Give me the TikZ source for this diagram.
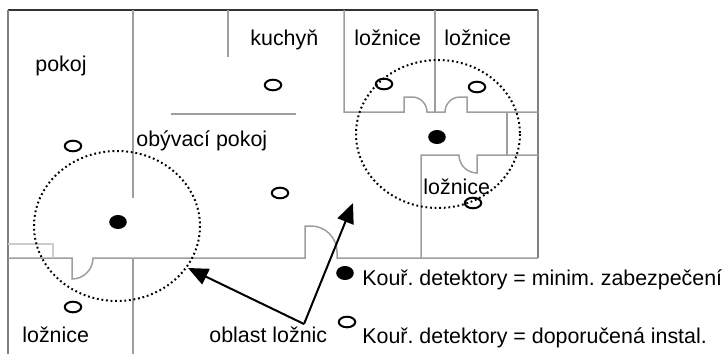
\documentclass[tikz,border=0pt]{standalone}
\usepackage{fontspec}
\setmainfont{Liberation Sans}
\usetikzlibrary{arrows.meta,shapes.geometric}
\frenchspacing

\begin{document}
\begin{tikzpicture}[x=0.5pt,y=-0.5pt,
	wall/.style={draw=black!38,line width=0.75pt},
	zone/.style={draw=black,line width=1pt,dash pattern=on 0.9pt off 1.4pt},
	opendet/.style={ellipse,draw,line width=1pt,minimum width=8.2pt,minimum height=5.3pt,inner sep=0pt},
	fulldet/.style={ellipse,fill,minimum width=8.8pt,minimum height=7pt,inner sep=0pt},
	lbl/.style={anchor=base west,inner sep=0pt,font=\fontsize{10.7}{12}\selectfont},
	pointer/.style={-{Triangle[length=10pt,width=8.5pt]},line width=1pt}]
			\useasboundingbox (0,0) rectangle (727,354);
			% Obvodové stěny
			\draw[line width=0.9pt,draw=black!80] (8,10) -- (538,10);
			\draw[wall,draw=black!50] (8,10) -- (8,354);
			\draw[wall,draw=black!50] (538,10) -- (538,258);
			% Vnitřní stěny a dveře
			\draw[wall] (133,10) -- (133,198);
			\draw[wall] (133,259) -- (133,354);
			\draw[wall] (228,10) -- (228,57);
			\draw[wall] (171,114) -- (296,114);
			\draw[wall] (344,10) -- (344,112) -- (404,112) -- (404,97) -- (412,97)
				arc[start angle=-90,end angle=0,radius=15] -- (445,112)
				arc[start angle=180,end angle=270,radius=15] -- (467,97) -- (467,112) -- (538,112);
			\draw[wall] (435,10) -- (435,112);
			\draw[wall] (507,112) -- (507,155);
			\draw[wall] (421,258) -- (421,155) -- (459,155)
				arc[start angle=180,end angle=90,radius=18] -- (477,155) -- (538,155);
			\draw[wall] (8,258) -- (72,258) -- (72,279)
				arc[start angle=90,end angle=0,radius=21] -- (305,258) -- (305,226) -- (311,226)
				arc[start angle=-90,end angle=0,radius=26] -- (337,258) -- (538,258);
			\draw[wall,draw=black!20] (8,244) -- (53,244) -- (53,258);
			% Oblasti ložnic
			\draw[zone] (117,226) ellipse[x radius=83,y radius=75];
			\draw[zone] (438,134) ellipse[x radius=82,y radius=74];
			% Hlásiče
			\foreach \n/\x/\y in {a/118/222,b/437/137,c/345/273}
			\node[fulldet] (f\n) at (\x,\y) {};
			\foreach \n/\x/\y in {a/273/85,b/73/146,c/280/193,d/73/307,e/384/84,f/477/87,g/473/203,h/347/322}
			\node[opendet] (o\n) at (\x,\y) {};
			% Popisky
			\node[lbl] (pokoj) at (35,71.5) {pokoj};
			\node[lbl] (kuchyn) at (250,45) {kuchyň};
			\node[lbl] (lozA) at (354,45) {ložnice};
			\node[lbl] (lozB) at (444,45) {ložnice};
			\node[lbl] (obyv) at (136,146.5) {obývací pokoj};
			\node[lbl] (lozC) at (423,194) {ložnice};
			\node[lbl] (lozD) at (22,342.5) {ložnice};
			\node[lbl] (obl) at (209,342.5) {oblast ložnic};
			\node[lbl] (legA) at (362,285) {Kouř. detektory = minim. zabezpečení};
			\node[lbl] (legB) at (362,343) {Kouř. detektory = doporučená instal.};
			% Šipky
			\coordinate (fork) at (304,324);
			\coordinate (tipL) at (188,268);
			\coordinate (tipR) at (353,203);
			\draw[pointer] (fork) -- (tipL);
			\draw[pointer] (fork) -- (tipR);
		\end{tikzpicture}
\end{document}
